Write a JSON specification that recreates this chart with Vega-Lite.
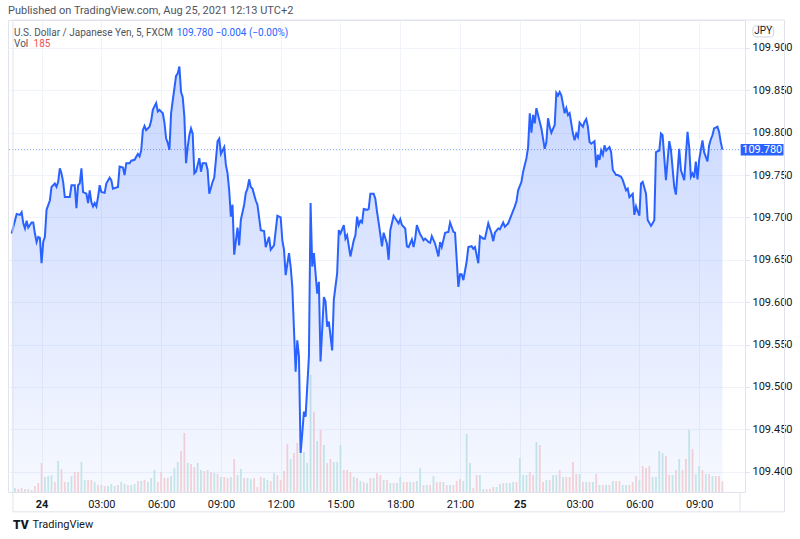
{
  "$schema": "https://vega.github.io/schema/vega-lite/v6.json",
  "width": 737,
  "height": 472,
  "autosize": {"type": "none"},
  "padding": {"left": 8, "top": 20, "right": 55, "bottom": 47},
  "background": "#ffffff",
  "title": {
    "text": "Published on TradingView.com, Aug 25, 2021 12:13 UTC+2",
    "anchor": "start",
    "frame": "group",
    "fontSize": 11,
    "fontWeight": "normal",
    "color": "#50535e",
    "offset": 4
  },
  "config": {
    "font": "Roboto",
    "view": {"stroke": "#e0e3eb"},
    "axis": {
      "labelFont": "Roboto",
      "labelFontSize": 11,
      "labelColor": "#131722",
      "gridColor": "#f0f3fa",
      "domain": false
    }
  },
  "data": {"values": [{}]},
  "datasets": {
    "price": [
      {"t": "2021-08-23T22:30Z", "p": 109.681}, {"t": "2021-08-23T22:45Z", "p": 109.704}, {"t": "2021-08-23T22:55Z", "p": 109.703},
      {"t": "2021-08-23T23:00Z", "p": 109.706}, {"t": "2021-08-23T23:05Z", "p": 109.693}, {"t": "2021-08-23T23:10Z", "p": 109.687},
      {"t": "2021-08-23T23:15Z", "p": 109.696}, {"t": "2021-08-23T23:20Z", "p": 109.688}, {"t": "2021-08-23T23:30Z", "p": 109.694},
      {"t": "2021-08-23T23:35Z", "p": 109.694}, {"t": "2021-08-23T23:40Z", "p": 109.681}, {"t": "2021-08-23T23:45Z", "p": 109.671},
      {"t": "2021-08-23T23:50Z", "p": 109.677}, {"t": "2021-08-23T23:55Z", "p": 109.676}, {"t": "2021-08-24T00:00Z", "p": 109.646},
      {"t": "2021-08-24T00:05Z", "p": 109.671}, {"t": "2021-08-24T00:10Z", "p": 109.677}, {"t": "2021-08-24T00:15Z", "p": 109.709},
      {"t": "2021-08-24T00:25Z", "p": 109.720}, {"t": "2021-08-24T00:30Z", "p": 109.736}, {"t": "2021-08-24T00:40Z", "p": 109.740},
      {"t": "2021-08-24T00:45Z", "p": 109.736}, {"t": "2021-08-24T00:50Z", "p": 109.742}, {"t": "2021-08-24T00:55Z", "p": 109.758},
      {"t": "2021-08-24T01:00Z", "p": 109.752}, {"t": "2021-08-24T01:05Z", "p": 109.742}, {"t": "2021-08-24T01:10Z", "p": 109.724},
      {"t": "2021-08-24T01:25Z", "p": 109.724}, {"t": "2021-08-24T01:30Z", "p": 109.738}, {"t": "2021-08-24T01:40Z", "p": 109.738},
      {"t": "2021-08-24T01:45Z", "p": 109.711}, {"t": "2021-08-24T01:50Z", "p": 109.738}, {"t": "2021-08-24T01:55Z", "p": 109.740},
      {"t": "2021-08-24T02:00Z", "p": 109.758}, {"t": "2021-08-24T02:05Z", "p": 109.730}, {"t": "2021-08-24T02:15Z", "p": 109.728},
      {"t": "2021-08-24T02:20Z", "p": 109.717}, {"t": "2021-08-24T02:25Z", "p": 109.732}, {"t": "2021-08-24T02:30Z", "p": 109.718},
      {"t": "2021-08-24T02:35Z", "p": 109.713}, {"t": "2021-08-24T02:40Z", "p": 109.717}, {"t": "2021-08-24T02:45Z", "p": 109.713},
      {"t": "2021-08-24T02:50Z", "p": 109.724}, {"t": "2021-08-24T02:55Z", "p": 109.738}, {"t": "2021-08-24T03:00Z", "p": 109.730},
      {"t": "2021-08-24T03:10Z", "p": 109.729}, {"t": "2021-08-24T03:15Z", "p": 109.740}, {"t": "2021-08-24T03:25Z", "p": 109.747},
      {"t": "2021-08-24T03:30Z", "p": 109.744}, {"t": "2021-08-24T03:35Z", "p": 109.734}, {"t": "2021-08-24T03:50Z", "p": 109.736},
      {"t": "2021-08-24T03:55Z", "p": 109.760}, {"t": "2021-08-24T04:05Z", "p": 109.759}, {"t": "2021-08-24T04:10Z", "p": 109.750},
      {"t": "2021-08-24T04:15Z", "p": 109.764}, {"t": "2021-08-24T04:25Z", "p": 109.764}, {"t": "2021-08-24T04:30Z", "p": 109.767},
      {"t": "2021-08-24T04:40Z", "p": 109.768}, {"t": "2021-08-24T04:50Z", "p": 109.775}, {"t": "2021-08-24T04:55Z", "p": 109.772},
      {"t": "2021-08-24T05:00Z", "p": 109.779}, {"t": "2021-08-24T05:05Z", "p": 109.803}, {"t": "2021-08-24T05:10Z", "p": 109.808},
      {"t": "2021-08-24T05:15Z", "p": 109.803}, {"t": "2021-08-24T05:25Z", "p": 109.807}, {"t": "2021-08-24T05:30Z", "p": 109.814},
      {"t": "2021-08-24T05:35Z", "p": 109.827}, {"t": "2021-08-24T05:40Z", "p": 109.831}, {"t": "2021-08-24T05:45Z", "p": 109.835},
      {"t": "2021-08-24T05:50Z", "p": 109.825}, {"t": "2021-08-24T05:55Z", "p": 109.827}, {"t": "2021-08-24T06:05Z", "p": 109.823},
      {"t": "2021-08-24T06:10Z", "p": 109.812}, {"t": "2021-08-24T06:15Z", "p": 109.793}, {"t": "2021-08-24T06:20Z", "p": 109.788},
      {"t": "2021-08-24T06:25Z", "p": 109.780}, {"t": "2021-08-24T06:30Z", "p": 109.823}, {"t": "2021-08-24T06:35Z", "p": 109.838},
      {"t": "2021-08-24T06:45Z", "p": 109.867}, {"t": "2021-08-24T06:50Z", "p": 109.870}, {"t": "2021-08-24T06:55Z", "p": 109.878},
      {"t": "2021-08-24T07:00Z", "p": 109.848}, {"t": "2021-08-24T07:05Z", "p": 109.842}, {"t": "2021-08-24T07:10Z", "p": 109.819},
      {"t": "2021-08-24T07:15Z", "p": 109.764}, {"t": "2021-08-24T07:20Z", "p": 109.783}, {"t": "2021-08-24T07:25Z", "p": 109.797},
      {"t": "2021-08-24T07:30Z", "p": 109.805}, {"t": "2021-08-24T07:35Z", "p": 109.799}, {"t": "2021-08-24T07:40Z", "p": 109.752},
      {"t": "2021-08-24T07:45Z", "p": 109.754}, {"t": "2021-08-24T07:55Z", "p": 109.770}, {"t": "2021-08-24T08:00Z", "p": 109.754},
      {"t": "2021-08-24T08:05Z", "p": 109.764}, {"t": "2021-08-24T08:15Z", "p": 109.764}, {"t": "2021-08-24T08:20Z", "p": 109.756},
      {"t": "2021-08-24T08:25Z", "p": 109.728}, {"t": "2021-08-24T08:35Z", "p": 109.742}, {"t": "2021-08-24T08:40Z", "p": 109.747},
      {"t": "2021-08-24T08:45Z", "p": 109.768}, {"t": "2021-08-24T08:50Z", "p": 109.790}, {"t": "2021-08-24T08:55Z", "p": 109.793},
      {"t": "2021-08-24T09:00Z", "p": 109.775}, {"t": "2021-08-24T09:05Z", "p": 109.779}, {"t": "2021-08-24T09:10Z", "p": 109.783},
      {"t": "2021-08-24T09:15Z", "p": 109.762}, {"t": "2021-08-24T09:20Z", "p": 109.752}, {"t": "2021-08-24T09:25Z", "p": 109.732},
      {"t": "2021-08-24T09:30Z", "p": 109.701}, {"t": "2021-08-24T09:35Z", "p": 109.715}, {"t": "2021-08-24T09:40Z", "p": 109.656},
      {"t": "2021-08-24T09:50Z", "p": 109.688}, {"t": "2021-08-24T09:55Z", "p": 109.667}, {"t": "2021-08-24T10:00Z", "p": 109.697},
      {"t": "2021-08-24T10:10Z", "p": 109.715}, {"t": "2021-08-24T10:15Z", "p": 109.729}, {"t": "2021-08-24T10:20Z", "p": 109.734},
      {"t": "2021-08-24T10:25Z", "p": 109.745}, {"t": "2021-08-24T10:30Z", "p": 109.736}, {"t": "2021-08-24T10:35Z", "p": 109.734},
      {"t": "2021-08-24T10:45Z", "p": 109.720}, {"t": "2021-08-24T10:50Z", "p": 109.715}, {"t": "2021-08-24T11:00Z", "p": 109.685},
      {"t": "2021-08-24T11:10Z", "p": 109.684}, {"t": "2021-08-24T11:15Z", "p": 109.665}, {"t": "2021-08-24T11:25Z", "p": 109.677},
      {"t": "2021-08-24T11:30Z", "p": 109.662}, {"t": "2021-08-24T11:40Z", "p": 109.667}, {"t": "2021-08-24T11:50Z", "p": 109.702},
      {"t": "2021-08-24T12:00Z", "p": 109.700}, {"t": "2021-08-24T12:05Z", "p": 109.673}, {"t": "2021-08-24T12:10Z", "p": 109.662},
      {"t": "2021-08-24T12:15Z", "p": 109.632}, {"t": "2021-08-24T12:25Z", "p": 109.658}, {"t": "2021-08-24T12:30Z", "p": 109.642},
      {"t": "2021-08-24T12:35Z", "p": 109.618}, {"t": "2021-08-24T12:45Z", "p": 109.518}, {"t": "2021-08-24T12:50Z", "p": 109.555},
      {"t": "2021-08-24T12:55Z", "p": 109.536}, {"t": "2021-08-24T13:00Z", "p": 109.422}, {"t": "2021-08-24T13:05Z", "p": 109.445},
      {"t": "2021-08-24T13:10Z", "p": 109.471}, {"t": "2021-08-24T13:15Z", "p": 109.465}, {"t": "2021-08-24T13:25Z", "p": 109.536},
      {"t": "2021-08-24T13:30Z", "p": 109.717}, {"t": "2021-08-24T13:35Z", "p": 109.642}, {"t": "2021-08-24T13:40Z", "p": 109.658},
      {"t": "2021-08-24T13:50Z", "p": 109.610}, {"t": "2021-08-24T13:55Z", "p": 109.624}, {"t": "2021-08-24T14:00Z", "p": 109.530},
      {"t": "2021-08-24T14:10Z", "p": 109.606}, {"t": "2021-08-24T14:15Z", "p": 109.601}, {"t": "2021-08-24T14:20Z", "p": 109.571},
      {"t": "2021-08-24T14:25Z", "p": 109.577}, {"t": "2021-08-24T14:35Z", "p": 109.543}, {"t": "2021-08-24T14:40Z", "p": 109.603},
      {"t": "2021-08-24T14:50Z", "p": 109.634}, {"t": "2021-08-24T14:55Z", "p": 109.685}, {"t": "2021-08-24T15:00Z", "p": 109.681},
      {"t": "2021-08-24T15:10Z", "p": 109.691}, {"t": "2021-08-24T15:15Z", "p": 109.675}, {"t": "2021-08-24T15:20Z", "p": 109.679},
      {"t": "2021-08-24T15:30Z", "p": 109.654}, {"t": "2021-08-24T15:40Z", "p": 109.673}, {"t": "2021-08-24T15:45Z", "p": 109.679},
      {"t": "2021-08-24T15:50Z", "p": 109.701}, {"t": "2021-08-24T15:55Z", "p": 109.691}, {"t": "2021-08-24T16:00Z", "p": 109.696},
      {"t": "2021-08-24T16:05Z", "p": 109.694}, {"t": "2021-08-24T16:10Z", "p": 109.710}, {"t": "2021-08-24T16:20Z", "p": 109.709},
      {"t": "2021-08-24T16:25Z", "p": 109.710}, {"t": "2021-08-24T16:30Z", "p": 109.728}, {"t": "2021-08-24T16:40Z", "p": 109.728},
      {"t": "2021-08-24T16:45Z", "p": 109.722}, {"t": "2021-08-24T16:50Z", "p": 109.707}, {"t": "2021-08-24T16:55Z", "p": 109.694},
      {"t": "2021-08-24T17:05Z", "p": 109.666}, {"t": "2021-08-24T17:10Z", "p": 109.682}, {"t": "2021-08-24T17:20Z", "p": 109.669},
      {"t": "2021-08-24T17:25Z", "p": 109.650}, {"t": "2021-08-24T17:30Z", "p": 109.685}, {"t": "2021-08-24T17:40Z", "p": 109.702},
      {"t": "2021-08-24T17:45Z", "p": 109.699}, {"t": "2021-08-24T17:55Z", "p": 109.693}, {"t": "2021-08-24T18:00Z", "p": 109.698},
      {"t": "2021-08-24T18:05Z", "p": 109.691}, {"t": "2021-08-24T18:15Z", "p": 109.687}, {"t": "2021-08-24T18:20Z", "p": 109.666},
      {"t": "2021-08-24T18:25Z", "p": 109.665}, {"t": "2021-08-24T18:35Z", "p": 109.674}, {"t": "2021-08-24T18:40Z", "p": 109.665},
      {"t": "2021-08-24T18:45Z", "p": 109.675}, {"t": "2021-08-24T18:50Z", "p": 109.691}, {"t": "2021-08-24T19:00Z", "p": 109.680},
      {"t": "2021-08-24T19:05Z", "p": 109.677}, {"t": "2021-08-24T19:10Z", "p": 109.673}, {"t": "2021-08-24T19:15Z", "p": 109.675},
      {"t": "2021-08-24T19:25Z", "p": 109.671}, {"t": "2021-08-24T19:30Z", "p": 109.670}, {"t": "2021-08-24T19:35Z", "p": 109.678},
      {"t": "2021-08-24T19:45Z", "p": 109.669}, {"t": "2021-08-24T19:55Z", "p": 109.654}, {"t": "2021-08-24T20:00Z", "p": 109.671},
      {"t": "2021-08-24T20:05Z", "p": 109.665}, {"t": "2021-08-24T20:15Z", "p": 109.682}, {"t": "2021-08-24T20:25Z", "p": 109.683},
      {"t": "2021-08-24T20:30Z", "p": 109.694}, {"t": "2021-08-24T20:40Z", "p": 109.683}, {"t": "2021-08-24T20:45Z", "p": 109.682},
      {"t": "2021-08-24T20:55Z", "p": 109.618}, {"t": "2021-08-24T21:00Z", "p": 109.633}, {"t": "2021-08-24T21:05Z", "p": 109.633},
      {"t": "2021-08-24T21:10Z", "p": 109.626}, {"t": "2021-08-24T21:20Z", "p": 109.648}, {"t": "2021-08-24T21:25Z", "p": 109.665},
      {"t": "2021-08-24T21:35Z", "p": 109.666}, {"t": "2021-08-24T21:40Z", "p": 109.663}, {"t": "2021-08-24T21:45Z", "p": 109.665},
      {"t": "2021-08-24T21:55Z", "p": 109.646}, {"t": "2021-08-24T22:00Z", "p": 109.678}, {"t": "2021-08-24T22:10Z", "p": 109.675},
      {"t": "2021-08-24T22:15Z", "p": 109.675}, {"t": "2021-08-24T22:25Z", "p": 109.693}, {"t": "2021-08-24T22:35Z", "p": 109.681},
      {"t": "2021-08-24T22:40Z", "p": 109.672}, {"t": "2021-08-24T22:45Z", "p": 109.682}, {"t": "2021-08-24T22:55Z", "p": 109.687},
      {"t": "2021-08-24T23:00Z", "p": 109.686}, {"t": "2021-08-24T23:10Z", "p": 109.694}, {"t": "2021-08-24T23:15Z", "p": 109.689},
      {"t": "2021-08-24T23:25Z", "p": 109.693}, {"t": "2021-08-24T23:35Z", "p": 109.703}, {"t": "2021-08-24T23:45Z", "p": 109.713},
      {"t": "2021-08-24T23:50Z", "p": 109.719}, {"t": "2021-08-24T23:55Z", "p": 109.732}, {"t": "2021-08-25T00:05Z", "p": 109.742},
      {"t": "2021-08-25T00:10Z", "p": 109.754}, {"t": "2021-08-25T00:20Z", "p": 109.770}, {"t": "2021-08-25T00:25Z", "p": 109.783},
      {"t": "2021-08-25T00:30Z", "p": 109.823}, {"t": "2021-08-25T00:35Z", "p": 109.800}, {"t": "2021-08-25T00:40Z", "p": 109.821},
      {"t": "2021-08-25T00:45Z", "p": 109.811}, {"t": "2021-08-25T00:50Z", "p": 109.829}, {"t": "2021-08-25T01:00Z", "p": 109.813},
      {"t": "2021-08-25T01:05Z", "p": 109.805}, {"t": "2021-08-25T01:15Z", "p": 109.781}, {"t": "2021-08-25T01:20Z", "p": 109.789},
      {"t": "2021-08-25T01:25Z", "p": 109.817}, {"t": "2021-08-25T01:30Z", "p": 109.807}, {"t": "2021-08-25T01:35Z", "p": 109.800},
      {"t": "2021-08-25T01:45Z", "p": 109.809}, {"t": "2021-08-25T01:50Z", "p": 109.847}, {"t": "2021-08-25T01:55Z", "p": 109.844},
      {"t": "2021-08-25T02:00Z", "p": 109.848}, {"t": "2021-08-25T02:05Z", "p": 109.844}, {"t": "2021-08-25T02:15Z", "p": 109.823},
      {"t": "2021-08-25T02:20Z", "p": 109.829}, {"t": "2021-08-25T02:25Z", "p": 109.821}, {"t": "2021-08-25T02:30Z", "p": 109.823},
      {"t": "2021-08-25T02:40Z", "p": 109.799}, {"t": "2021-08-25T02:45Z", "p": 109.791}, {"t": "2021-08-25T02:50Z", "p": 109.799},
      {"t": "2021-08-25T02:55Z", "p": 109.795}, {"t": "2021-08-25T03:00Z", "p": 109.812}, {"t": "2021-08-25T03:10Z", "p": 109.807},
      {"t": "2021-08-25T03:15Z", "p": 109.813}, {"t": "2021-08-25T03:20Z", "p": 109.816}, {"t": "2021-08-25T03:25Z", "p": 109.807},
      {"t": "2021-08-25T03:30Z", "p": 109.789}, {"t": "2021-08-25T03:35Z", "p": 109.787}, {"t": "2021-08-25T03:45Z", "p": 109.790},
      {"t": "2021-08-25T03:50Z", "p": 109.759}, {"t": "2021-08-25T03:55Z", "p": 109.774}, {"t": "2021-08-25T04:00Z", "p": 109.768},
      {"t": "2021-08-25T04:05Z", "p": 109.779}, {"t": "2021-08-25T04:10Z", "p": 109.774}, {"t": "2021-08-25T04:15Z", "p": 109.785},
      {"t": "2021-08-25T04:20Z", "p": 109.779}, {"t": "2021-08-25T04:30Z", "p": 109.783}, {"t": "2021-08-25T04:35Z", "p": 109.777},
      {"t": "2021-08-25T04:40Z", "p": 109.756}, {"t": "2021-08-25T04:50Z", "p": 109.750}, {"t": "2021-08-25T04:55Z", "p": 109.750},
      {"t": "2021-08-25T05:05Z", "p": 109.748}, {"t": "2021-08-25T05:10Z", "p": 109.744}, {"t": "2021-08-25T05:20Z", "p": 109.732},
      {"t": "2021-08-25T05:25Z", "p": 109.734}, {"t": "2021-08-25T05:30Z", "p": 109.724}, {"t": "2021-08-25T05:40Z", "p": 109.728},
      {"t": "2021-08-25T05:45Z", "p": 109.703}, {"t": "2021-08-25T05:50Z", "p": 109.713}, {"t": "2021-08-25T05:55Z", "p": 109.707},
      {"t": "2021-08-25T06:00Z", "p": 109.702}, {"t": "2021-08-25T06:05Z", "p": 109.740}, {"t": "2021-08-25T06:10Z", "p": 109.742},
      {"t": "2021-08-25T06:20Z", "p": 109.728}, {"t": "2021-08-25T06:25Z", "p": 109.697}, {"t": "2021-08-25T06:35Z", "p": 109.690},
      {"t": "2021-08-25T06:40Z", "p": 109.693}, {"t": "2021-08-25T06:45Z", "p": 109.697}, {"t": "2021-08-25T06:50Z", "p": 109.777},
      {"t": "2021-08-25T07:00Z", "p": 109.779}, {"t": "2021-08-25T07:05Z", "p": 109.799}, {"t": "2021-08-25T07:10Z", "p": 109.797},
      {"t": "2021-08-25T07:20Z", "p": 109.744}, {"t": "2021-08-25T07:30Z", "p": 109.790}, {"t": "2021-08-25T07:35Z", "p": 109.780},
      {"t": "2021-08-25T07:45Z", "p": 109.736}, {"t": "2021-08-25T07:50Z", "p": 109.727}, {"t": "2021-08-25T08:00Z", "p": 109.781},
      {"t": "2021-08-25T08:05Z", "p": 109.756}, {"t": "2021-08-25T08:15Z", "p": 109.744}, {"t": "2021-08-25T08:25Z", "p": 109.801},
      {"t": "2021-08-25T08:30Z", "p": 109.783}, {"t": "2021-08-25T08:35Z", "p": 109.748}, {"t": "2021-08-25T08:40Z", "p": 109.752},
      {"t": "2021-08-25T08:45Z", "p": 109.747}, {"t": "2021-08-25T08:50Z", "p": 109.766}, {"t": "2021-08-25T08:55Z", "p": 109.745},
      {"t": "2021-08-25T09:00Z", "p": 109.768}, {"t": "2021-08-25T09:10Z", "p": 109.791}, {"t": "2021-08-25T09:15Z", "p": 109.777},
      {"t": "2021-08-25T09:25Z", "p": 109.766}, {"t": "2021-08-25T09:30Z", "p": 109.785}, {"t": "2021-08-25T09:35Z", "p": 109.792},
      {"t": "2021-08-25T09:40Z", "p": 109.797}, {"t": "2021-08-25T09:45Z", "p": 109.805}, {"t": "2021-08-25T09:55Z", "p": 109.807},
      {"t": "2021-08-25T10:00Z", "p": 109.801}, {"t": "2021-08-25T10:05Z", "p": 109.789}, {"t": "2021-08-25T10:10Z", "p": 109.780}
    ],
    "vol": [
      {"t": "2021-08-23T22:40Z", "v": 68, "d": "up"}, {"t": "2021-08-23T22:50Z", "v": 51, "d": "down"}, {"t": "2021-08-23T23:00Z", "v": 68, "d": "down"},
      {"t": "2021-08-23T23:10Z", "v": 51, "d": "up"}, {"t": "2021-08-23T23:20Z", "v": 51, "d": "down"}, {"t": "2021-08-23T23:30Z", "v": 34, "d": "up"},
      {"t": "2021-08-23T23:40Z", "v": 102, "d": "down"}, {"t": "2021-08-23T23:50Z", "v": 153, "d": "down"}, {"t": "2021-08-24T00:00Z", "v": 493, "d": "down"},
      {"t": "2021-08-24T00:10Z", "v": 255, "d": "up"}, {"t": "2021-08-24T00:20Z", "v": 272, "d": "up"}, {"t": "2021-08-24T00:30Z", "v": 289, "d": "up"},
      {"t": "2021-08-24T00:40Z", "v": 170, "d": "down"}, {"t": "2021-08-24T00:50Z", "v": 527, "d": "up"}, {"t": "2021-08-24T01:00Z", "v": 391, "d": "down"},
      {"t": "2021-08-24T01:10Z", "v": 170, "d": "down"}, {"t": "2021-08-24T01:20Z", "v": 170, "d": "up"}, {"t": "2021-08-24T01:30Z", "v": 272, "d": "up"},
      {"t": "2021-08-24T01:40Z", "v": 340, "d": "down"}, {"t": "2021-08-24T01:50Z", "v": 340, "d": "down"}, {"t": "2021-08-24T02:00Z", "v": 510, "d": "up"},
      {"t": "2021-08-24T02:10Z", "v": 204, "d": "up"}, {"t": "2021-08-24T02:20Z", "v": 204, "d": "down"}, {"t": "2021-08-24T02:30Z", "v": 204, "d": "down"},
      {"t": "2021-08-24T02:40Z", "v": 170, "d": "up"}, {"t": "2021-08-24T02:50Z", "v": 119, "d": "down"}, {"t": "2021-08-24T03:00Z", "v": 119, "d": "up"},
      {"t": "2021-08-24T03:10Z", "v": 102, "d": "down"}, {"t": "2021-08-24T03:20Z", "v": 102, "d": "up"}, {"t": "2021-08-24T03:30Z", "v": 136, "d": "up"},
      {"t": "2021-08-24T03:40Z", "v": 102, "d": "up"}, {"t": "2021-08-24T03:50Z", "v": 119, "d": "down"}, {"t": "2021-08-24T04:00Z", "v": 170, "d": "up"},
      {"t": "2021-08-24T04:10Z", "v": 136, "d": "up"}, {"t": "2021-08-24T04:20Z", "v": 119, "d": "down"}, {"t": "2021-08-24T04:30Z", "v": 119, "d": "up"},
      {"t": "2021-08-24T04:40Z", "v": 136, "d": "up"}, {"t": "2021-08-24T04:50Z", "v": 187, "d": "down"}, {"t": "2021-08-24T05:00Z", "v": 187, "d": "up"},
      {"t": "2021-08-24T05:10Z", "v": 204, "d": "down"}, {"t": "2021-08-24T05:20Z", "v": 170, "d": "up"}, {"t": "2021-08-24T05:30Z", "v": 238, "d": "up"},
      {"t": "2021-08-24T05:40Z", "v": 374, "d": "up"}, {"t": "2021-08-24T05:50Z", "v": 170, "d": "down"}, {"t": "2021-08-24T06:00Z", "v": 340, "d": "down"},
      {"t": "2021-08-24T06:10Z", "v": 238, "d": "down"}, {"t": "2021-08-24T06:20Z", "v": 238, "d": "down"}, {"t": "2021-08-24T06:30Z", "v": 272, "d": "up"},
      {"t": "2021-08-24T06:40Z", "v": 408, "d": "up"}, {"t": "2021-08-24T06:50Z", "v": 510, "d": "up"}, {"t": "2021-08-24T07:00Z", "v": 697, "d": "down"},
      {"t": "2021-08-24T07:10Z", "v": 1003, "d": "down"}, {"t": "2021-08-24T07:20Z", "v": 493, "d": "up"}, {"t": "2021-08-24T07:30Z", "v": 476, "d": "down"},
      {"t": "2021-08-24T07:40Z", "v": 425, "d": "down"}, {"t": "2021-08-24T07:50Z", "v": 493, "d": "up"}, {"t": "2021-08-24T08:00Z", "v": 374, "d": "up"},
      {"t": "2021-08-24T08:10Z", "v": 357, "d": "down"}, {"t": "2021-08-24T08:20Z", "v": 374, "d": "up"}, {"t": "2021-08-24T08:30Z", "v": 340, "d": "down"},
      {"t": "2021-08-24T08:40Z", "v": 323, "d": "up"}, {"t": "2021-08-24T08:50Z", "v": 306, "d": "down"}, {"t": "2021-08-24T09:00Z", "v": 255, "d": "up"},
      {"t": "2021-08-24T09:10Z", "v": 255, "d": "down"}, {"t": "2021-08-24T09:20Z", "v": 238, "d": "down"}, {"t": "2021-08-24T09:30Z", "v": 255, "d": "up"},
      {"t": "2021-08-24T09:40Z", "v": 561, "d": "down"}, {"t": "2021-08-24T09:50Z", "v": 289, "d": "up"}, {"t": "2021-08-24T10:00Z", "v": 391, "d": "up"},
      {"t": "2021-08-24T10:10Z", "v": 238, "d": "down"}, {"t": "2021-08-24T10:20Z", "v": 238, "d": "up"}, {"t": "2021-08-24T10:30Z", "v": 221, "d": "up"},
      {"t": "2021-08-24T10:40Z", "v": 238, "d": "down"}, {"t": "2021-08-24T10:50Z", "v": 85, "d": "down"}, {"t": "2021-08-24T11:00Z", "v": 255, "d": "down"},
      {"t": "2021-08-24T11:10Z", "v": 238, "d": "up"}, {"t": "2021-08-24T11:20Z", "v": 204, "d": "up"}, {"t": "2021-08-24T11:30Z", "v": 187, "d": "down"},
      {"t": "2021-08-24T11:40Z", "v": 323, "d": "up"}, {"t": "2021-08-24T11:50Z", "v": 289, "d": "down"}, {"t": "2021-08-24T12:00Z", "v": 204, "d": "down"},
      {"t": "2021-08-24T12:10Z", "v": 357, "d": "down"}, {"t": "2021-08-24T12:20Z", "v": 816, "d": "down"}, {"t": "2021-08-24T12:30Z", "v": 561, "d": "up"},
      {"t": "2021-08-24T12:40Z", "v": 663, "d": "down"}, {"t": "2021-08-24T12:50Z", "v": 833, "d": "down"}, {"t": "2021-08-24T13:00Z", "v": 663, "d": "up"},
      {"t": "2021-08-24T13:10Z", "v": 680, "d": "up"}, {"t": "2021-08-24T13:20Z", "v": 493, "d": "up"}, {"t": "2021-08-24T13:30Z", "v": 1989, "d": "up"},
      {"t": "2021-08-24T13:40Z", "v": 1360, "d": "down"}, {"t": "2021-08-24T13:50Z", "v": 867, "d": "up"}, {"t": "2021-08-24T14:00Z", "v": 1054, "d": "down"},
      {"t": "2021-08-24T14:10Z", "v": 799, "d": "up"}, {"t": "2021-08-24T14:20Z", "v": 493, "d": "down"}, {"t": "2021-08-24T14:30Z", "v": 561, "d": "down"},
      {"t": "2021-08-24T14:40Z", "v": 510, "d": "up"}, {"t": "2021-08-24T14:50Z", "v": 510, "d": "up"}, {"t": "2021-08-24T15:00Z", "v": 799, "d": "up"},
      {"t": "2021-08-24T15:10Z", "v": 374, "d": "down"}, {"t": "2021-08-24T15:20Z", "v": 374, "d": "down"}, {"t": "2021-08-24T15:30Z", "v": 340, "d": "down"},
      {"t": "2021-08-24T15:40Z", "v": 255, "d": "up"}, {"t": "2021-08-24T15:50Z", "v": 238, "d": "down"}, {"t": "2021-08-24T16:00Z", "v": 187, "d": "up"},
      {"t": "2021-08-24T16:10Z", "v": 170, "d": "down"}, {"t": "2021-08-24T16:20Z", "v": 153, "d": "up"}, {"t": "2021-08-24T16:30Z", "v": 238, "d": "down"},
      {"t": "2021-08-24T16:40Z", "v": 238, "d": "up"}, {"t": "2021-08-24T16:50Z", "v": 323, "d": "down"}, {"t": "2021-08-24T17:00Z", "v": 289, "d": "down"},
      {"t": "2021-08-24T17:10Z", "v": 204, "d": "up"}, {"t": "2021-08-24T17:20Z", "v": 204, "d": "down"}, {"t": "2021-08-24T17:30Z", "v": 153, "d": "up"},
      {"t": "2021-08-24T17:40Z", "v": 153, "d": "down"}, {"t": "2021-08-24T17:50Z", "v": 153, "d": "up"}, {"t": "2021-08-24T18:00Z", "v": 255, "d": "up"},
      {"t": "2021-08-24T18:10Z", "v": 170, "d": "down"}, {"t": "2021-08-24T18:20Z", "v": 170, "d": "down"}, {"t": "2021-08-24T18:30Z", "v": 170, "d": "up"},
      {"t": "2021-08-24T18:40Z", "v": 170, "d": "down"}, {"t": "2021-08-24T18:50Z", "v": 187, "d": "up"}, {"t": "2021-08-24T19:00Z", "v": 408, "d": "up"},
      {"t": "2021-08-24T19:10Z", "v": 119, "d": "down"}, {"t": "2021-08-24T19:20Z", "v": 119, "d": "up"}, {"t": "2021-08-24T19:30Z", "v": 119, "d": "down"},
      {"t": "2021-08-24T19:40Z", "v": 272, "d": "up"}, {"t": "2021-08-24T19:50Z", "v": 170, "d": "down"}, {"t": "2021-08-24T20:00Z", "v": 170, "d": "down"},
      {"t": "2021-08-24T20:10Z", "v": 170, "d": "up"}, {"t": "2021-08-24T20:20Z", "v": 119, "d": "down"}, {"t": "2021-08-24T20:30Z", "v": 119, "d": "up"},
      {"t": "2021-08-24T20:40Z", "v": 119, "d": "down"}, {"t": "2021-08-24T20:50Z", "v": 187, "d": "down"}, {"t": "2021-08-24T21:00Z", "v": 221, "d": "down"},
      {"t": "2021-08-24T21:10Z", "v": 187, "d": "up"}, {"t": "2021-08-24T21:20Z", "v": 986, "d": "up"}, {"t": "2021-08-24T21:30Z", "v": 493, "d": "up"},
      {"t": "2021-08-24T21:40Z", "v": 68, "d": "down"}, {"t": "2021-08-24T21:50Z", "v": 289, "d": "down"}, {"t": "2021-08-24T22:00Z", "v": 289, "d": "up"},
      {"t": "2021-08-24T22:10Z", "v": 51, "d": "up"}, {"t": "2021-08-24T22:20Z", "v": 51, "d": "down"}, {"t": "2021-08-24T22:30Z", "v": 51, "d": "down"},
      {"t": "2021-08-24T22:40Z", "v": 85, "d": "down"}, {"t": "2021-08-24T22:50Z", "v": 85, "d": "up"}, {"t": "2021-08-24T23:00Z", "v": 136, "d": "up"},
      {"t": "2021-08-24T23:10Z", "v": 153, "d": "down"}, {"t": "2021-08-24T23:20Z", "v": 153, "d": "up"}, {"t": "2021-08-24T23:30Z", "v": 153, "d": "up"},
      {"t": "2021-08-24T23:40Z", "v": 170, "d": "up"}, {"t": "2021-08-24T23:50Z", "v": 170, "d": "down"}, {"t": "2021-08-25T00:00Z", "v": 578, "d": "up"},
      {"t": "2021-08-25T00:10Z", "v": 289, "d": "up"}, {"t": "2021-08-25T00:20Z", "v": 289, "d": "up"}, {"t": "2021-08-25T00:30Z", "v": 340, "d": "down"},
      {"t": "2021-08-25T00:40Z", "v": 289, "d": "down"}, {"t": "2021-08-25T00:50Z", "v": 850, "d": "up"}, {"t": "2021-08-25T01:00Z", "v": 799, "d": "down"},
      {"t": "2021-08-25T01:10Z", "v": 170, "d": "down"}, {"t": "2021-08-25T01:20Z", "v": 204, "d": "up"}, {"t": "2021-08-25T01:30Z", "v": 204, "d": "down"},
      {"t": "2021-08-25T01:40Z", "v": 289, "d": "up"}, {"t": "2021-08-25T01:50Z", "v": 289, "d": "up"}, {"t": "2021-08-25T02:00Z", "v": 374, "d": "down"},
      {"t": "2021-08-25T02:10Z", "v": 255, "d": "up"}, {"t": "2021-08-25T02:20Z", "v": 255, "d": "down"}, {"t": "2021-08-25T02:30Z", "v": 255, "d": "down"},
      {"t": "2021-08-25T02:40Z", "v": 510, "d": "down"}, {"t": "2021-08-25T02:50Z", "v": 306, "d": "down"}, {"t": "2021-08-25T03:00Z", "v": 306, "d": "up"},
      {"t": "2021-08-25T03:10Z", "v": 170, "d": "down"}, {"t": "2021-08-25T03:20Z", "v": 170, "d": "up"}, {"t": "2021-08-25T03:30Z", "v": 170, "d": "down"},
      {"t": "2021-08-25T03:40Z", "v": 170, "d": "up"}, {"t": "2021-08-25T03:50Z", "v": 306, "d": "down"}, {"t": "2021-08-25T04:00Z", "v": 119, "d": "up"},
      {"t": "2021-08-25T04:10Z", "v": 119, "d": "down"}, {"t": "2021-08-25T04:20Z", "v": 119, "d": "up"}, {"t": "2021-08-25T04:30Z", "v": 119, "d": "down"},
      {"t": "2021-08-25T04:40Z", "v": 187, "d": "up"}, {"t": "2021-08-25T04:50Z", "v": 187, "d": "down"}, {"t": "2021-08-25T05:00Z", "v": 187, "d": "down"},
      {"t": "2021-08-25T05:10Z", "v": 119, "d": "up"}, {"t": "2021-08-25T05:20Z", "v": 119, "d": "up"}, {"t": "2021-08-25T05:30Z", "v": 119, "d": "down"},
      {"t": "2021-08-25T05:40Z", "v": 170, "d": "down"}, {"t": "2021-08-25T05:50Z", "v": 272, "d": "down"}, {"t": "2021-08-25T06:00Z", "v": 204, "d": "up"},
      {"t": "2021-08-25T06:10Z", "v": 442, "d": "down"}, {"t": "2021-08-25T06:20Z", "v": 408, "d": "down"}, {"t": "2021-08-25T06:30Z", "v": 442, "d": "down"},
      {"t": "2021-08-25T06:40Z", "v": 255, "d": "up"}, {"t": "2021-08-25T06:50Z", "v": 255, "d": "up"}, {"t": "2021-08-25T07:00Z", "v": 697, "d": "up"},
      {"t": "2021-08-25T07:10Z", "v": 663, "d": "up"}, {"t": "2021-08-25T07:20Z", "v": 612, "d": "down"}, {"t": "2021-08-25T07:30Z", "v": 289, "d": "down"},
      {"t": "2021-08-25T07:40Z", "v": 289, "d": "up"}, {"t": "2021-08-25T07:50Z", "v": 374, "d": "down"}, {"t": "2021-08-25T08:00Z", "v": 561, "d": "up"},
      {"t": "2021-08-25T08:10Z", "v": 374, "d": "down"}, {"t": "2021-08-25T08:20Z", "v": 561, "d": "down"}, {"t": "2021-08-25T08:30Z", "v": 1054, "d": "up"},
      {"t": "2021-08-25T08:40Z", "v": 731, "d": "down"}, {"t": "2021-08-25T08:50Z", "v": 306, "d": "up"}, {"t": "2021-08-25T09:00Z", "v": 442, "d": "up"},
      {"t": "2021-08-25T09:10Z", "v": 374, "d": "down"}, {"t": "2021-08-25T09:20Z", "v": 306, "d": "up"}, {"t": "2021-08-25T09:30Z", "v": 306, "d": "down"},
      {"t": "2021-08-25T09:40Z", "v": 272, "d": "up"}, {"t": "2021-08-25T09:50Z", "v": 272, "d": "down"}, {"t": "2021-08-25T10:00Z", "v": 272, "d": "down"},
      {"t": "2021-08-25T10:10Z", "v": 185, "d": "down"}
    ]
  },
  "resolve": {"scale": {"y": "independent"}},
  "layer": [
    {
      "data": {"name": "vol"},
      "mark": {"type": "bar", "size": 1.8},
      "encoding": {
        "x": {
          "field": "t",
          "type": "temporal",
          "title": null,
          "scale": {"type": "utc", "domain": [1629758040000, 1629889380000]},
          "axis": {
            "orient": "bottom",
            "values": [1629763200000, 1629774000000, 1629784800000, 1629795600000, 1629806400000, 1629817200000, 1629828000000, 1629838800000, 1629849600000, 1629860400000, 1629871200000, 1629882000000],
            "labelExpr": "utchours(datum.value) === 0 ? utcFormat(datum.value, '%-d') : utcFormat(datum.value, '%H:%M')",
            "labelFontWeight": {"condition": {"test": "utchours(datum.value) === 0", "value": "bold"}, "value": "normal"},
            "grid": true,
            "ticks": false,
            "labelPadding": 6,
            "labelFlush": false
          }
        },
        "y": {"field": "v", "type": "quantitative", "scale": {"domain": [0, 8024]}, "axis": null},
        "color": {
          "field": "d",
          "type": "nominal",
          "scale": {"domain": ["up", "down"], "range": ["#cbeae7", "#fbd6d5"]},
          "legend": null
        }
      }
    },
    {
      "layer": [
        {
          "data": {"name": "price"},
          "mark": {
            "type": "area",
            "clip": true,
            "color": {
              "gradient": "linear",
              "x1": 0, "y1": 0, "x2": 0, "y2": 1,
              "stops": [
                {"offset": 0, "color": "rgba(41,98,255,0.26)"},
                {"offset": 1, "color": "rgba(41,98,255,0.04)"}
              ]
            }
          },
          "encoding": {
            "x": {"field": "t", "type": "temporal", "title": null},
            "y": {
              "field": "p",
              "type": "quantitative",
              "title": null,
              "scale": {"domain": [109.376, 109.933], "zero": false, "nice": false},
              "axis": {
                "orient": "right",
                "values": [109.4, 109.45, 109.5, 109.55, 109.6, 109.65, 109.7, 109.75, 109.8, 109.85, 109.9],
                "format": ".3f",
                "grid": true,
                "tickSize": 4,
                "tickColor": "#e0e3eb",
                "labelPadding": 3
              }
            },
            "y2": {"datum": 109.376}
          }
        },
        {
          "data": {"name": "price"},
          "mark": {"type": "line", "clip": true, "color": "#2962ff", "strokeWidth": 2},
          "encoding": {
            "x": {"field": "t", "type": "temporal", "title": null},
            "y": {"field": "p", "type": "quantitative", "title": null}
          }
        },
        {
          "mark": {"type": "rule", "color": "#2962ff", "strokeDash": [1, 2], "opacity": 0.6},
          "encoding": {"y": {"datum": 109.78, "type": "quantitative"}}
        },
        {
          "mark": {"type": "rect", "fill": "transparent", "stroke": "#e0e3eb", "strokeWidth": 1},
          "encoding": {
            "x": {"datum": 1629758040000, "type": "temporal"},
            "x2": {"datum": 1629897420000},
            "y": {"datum": 109.933, "type": "quantitative"},
            "y2": {"datum": 109.3526}
          }
        },
        {
          "mark": {"type": "rule", "color": "#e0e3eb"},
          "encoding": {
            "x": {"datum": 1629889380000, "type": "temporal"},
            "y": {"datum": 109.376, "type": "quantitative"},
            "y2": {"datum": 109.3526}
          }
        },
        {
          "mark": {"type": "rect", "color": "#2962ff"},
          "encoding": {
            "x": {"datum": 1629889500000, "type": "temporal"},
            "x2": {"datum": 1629897240000},
            "y": {"datum": 109.7868, "type": "quantitative"},
            "y2": {"datum": 109.7732}
          }
        },
        {
          "mark": {"type": "text", "color": "#ffffff", "fontSize": 11, "align": "center", "baseline": "middle", "text": "109.780"},
          "encoding": {
            "x": {"datum": 1629893400000, "type": "temporal"},
            "y": {"datum": 109.78, "type": "quantitative"}
          }
        },
        {
          "mark": {"type": "rect", "fill": "#ffffff", "stroke": "#d1d4dc", "cornerRadius": 3},
          "encoding": {
            "x": {"datum": 1629891720000, "type": "temporal"},
            "x2": {"datum": 1629895440000},
            "y": {"datum": 109.926, "type": "quantitative"},
            "y2": {"datum": 109.913}
          }
        },
        {
          "mark": {"type": "text", "color": "#131722", "fontSize": 10, "align": "center", "baseline": "middle", "text": "JPY"},
          "encoding": {
            "x": {"datum": 1629893580000, "type": "temporal"},
            "y": {"datum": 109.9195, "type": "quantitative"}
          }
        },
        {
          "mark": {"type": "text", "color": "#50535e", "fontSize": 10, "align": "left", "baseline": "middle", "text": "U.S. Dollar / Japanese Yen, 5, FXCM"},
          "encoding": {
            "x": {"datum": 1629758220000, "type": "temporal"},
            "y": {"datum": 109.918, "type": "quantitative"}
          }
        },
        {
          "mark": {"type": "text", "color": "#2962ff", "fontSize": 10, "align": "left", "baseline": "middle", "text": "109.780  \u22120.004 (\u22120.00%)"},
          "encoding": {
            "x": {"datum": 1629787620000, "type": "temporal"},
            "y": {"datum": 109.918, "type": "quantitative"}
          }
        },
        {
          "mark": {"type": "text", "color": "#50535e", "fontSize": 10, "align": "left", "baseline": "middle", "text": "Vol"},
          "encoding": {
            "x": {"datum": 1629758220000, "type": "temporal"},
            "y": {"datum": 109.9044, "type": "quantitative"}
          }
        },
        {
          "mark": {"type": "text", "color": "#ef5350", "fontSize": 10, "align": "left", "baseline": "middle", "text": "185"},
          "encoding": {
            "x": {"datum": 1629761760000, "type": "temporal"},
            "y": {"datum": 109.9044, "type": "quantitative"}
          }
        },
        {
          "mark": {"type": "text", "color": "#131722", "fontSize": 12, "fontWeight": 900, "align": "left", "baseline": "middle", "text": "TV"},
          "encoding": {
            "x": {"datum": 1629758040000, "type": "temporal"},
            "y": {"datum": 109.3372, "type": "quantitative"}
          }
        },
        {
          "mark": {"type": "text", "color": "#131722", "fontSize": 11, "align": "left", "baseline": "middle", "text": "TradingView"},
          "encoding": {
            "x": {"datum": 1629761580000, "type": "temporal"},
            "y": {"datum": 109.3372, "type": "quantitative"}
          }
        }
      ]
    }
  ]
}
